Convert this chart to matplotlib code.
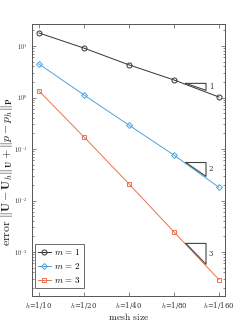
import numpy as np
import matplotlib
matplotlib.use("Agg")
import matplotlib.pyplot as plt
from matplotlib.ticker import FixedLocator, FuncFormatter, LogLocator, NullFormatter

plt.rcParams['mathtext.fontset'] = 'cm'
plt.rcParams['font.family'] = ['DejaVu Serif']

inv_h = [10, 20, 40, 80, 160]
xtick_labels = [r'$h$=1/10', r'$h$=1/20', r'$h$=1/40', r'$h$=1/80', r'$h$=1/160']
err_m1 = [17.9, 9.1, 4.3, 2.19, 1.02]
err_m2 = [4.47, 1.12, 0.29, 0.076, 0.018]
err_m3 = [1.34, 0.171, 0.021, 0.00245, 2.9e-4]
labels = [r'$m\,=\,1$', r'$m\,=\,2$', r'$m\,=\,3$']
slopes = [1, 2, 3]

colors = ['#333333', '#4ba3e0', '#e8734e']
markers = ['o', 'D', 's']
msizes = [3.6, 3.0, 3.0]

fig = plt.figure(figsize=(2.49, 3.32), dpi=100)
ax = fig.add_axes([32/249, 1-296/332, (225-32)/249, (296-24)/332])

series = [err_m1, err_m2, err_m3]
for s, c, mk, ms, lab in zip(series, colors, markers, msizes, labels):
    ax.plot(inv_h, s, color=c, marker=mk, markersize=ms, markerfacecolor='none',
            markeredgewidth=0.7, linewidth=0.7, label=lab)

ax.set_xscale('log')
ax.set_yscale('log')
ax.set_xlim(10 * 2**(-7/45), 160 * 2**(6/45))
ax.set_ylim(10**(-3 - 44/51.5), 10**(1 + 22/51.5))

ax.xaxis.set_major_locator(FixedLocator(inv_h))
ax.xaxis.set_minor_locator(FixedLocator([]))
ax.set_xticklabels(xtick_labels)
ax.yaxis.set_major_locator(LogLocator(base=10, numticks=10))
ax.yaxis.set_minor_locator(LogLocator(base=10, subs=np.arange(2, 10), numticks=20))
ax.yaxis.set_major_formatter(FuncFormatter(lambda v, p: r'$10^{%d}$' % int(round(np.log10(v)))))
ax.yaxis.set_minor_formatter(NullFormatter())

edge = '#555555'
for sp in ax.spines.values():
    sp.set_color(edge)
    sp.set_linewidth(0.7)
ax.tick_params(which='both', direction='in', top=True, right=True, colors=edge,
               labelcolor='#333333', width=0.5)
ax.tick_params(axis='x', which='major', length=3, labelsize=5, pad=3)
ax.tick_params(axis='y', which='major', length=3, labelsize=4.5, pad=3)
ax.tick_params(axis='y', which='minor', length=1.5)

ax.set_xlabel(r'$\mathrm{mesh\ size}$', fontsize=7, color='#222222', labelpad=0)
fig.text(7/249, 1-172/332,
         r'$\mathrm{error}\ \|\mathbf{U}-\mathbf{U}_h\|_{\mathbf{U}}+\|p-p_h\|_{\mathbf{P}}$',
         fontsize=8.5, color='#222222', rotation=90, ha='center', va='center')

# slope triangles
x0, x1 = 96.0, 131.0
xl = 137.0
for s, m in zip(series, slopes):
    lv = np.interp(np.log10(x0), np.log10(inv_h[3:5]), np.log10(s[3:5]))
    y0 = 10**lv * 1.05
    y1 = y0 * (x0 / x1)**m
    ax.plot([x0, x1, x1, x0], [y0, y0, y1, y0], color='#444444', linewidth=0.8)
    ax.text(xl, np.sqrt(y0 * y1), str(m), fontsize=5, va='center', ha='left',
            color='#333333', fontfamily='serif')

leg = ax.legend(loc='lower left', bbox_to_anchor=(3/193, 8/272), fontsize=6.5,
                frameon=True, fancybox=False, edgecolor='#444444', handlelength=1.4,
                handletextpad=0.3, borderpad=0.35, labelspacing=0.45, borderaxespad=0)
leg.get_frame().set_linewidth(0.7)

fig.savefig('out.png', dpi=100)
